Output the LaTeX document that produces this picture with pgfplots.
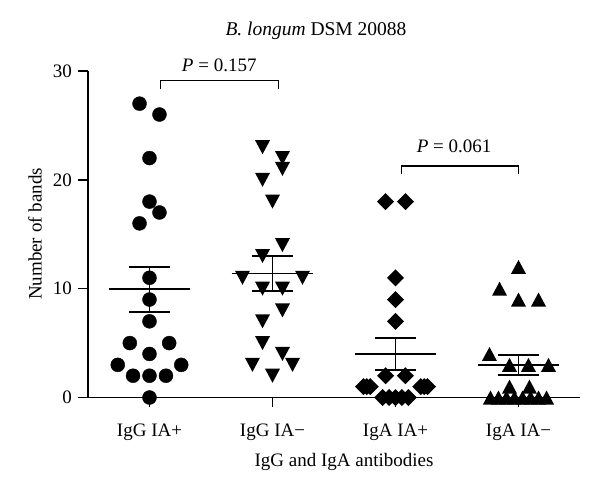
\documentclass[border=0pt]{standalone}
\usepackage{fontspec}
\setmainfont{Liberation Serif}
\usepackage{pgfplots}
\pgfplotsset{compat=1.18}

% filled marks, centred on their bounding box like the original
\pgfdeclareplotmark{tup}{%
  \pgfpathmoveto{\pgfqpoint{0pt}{7pt}}%
  \pgfpathlineto{\pgfqpoint{-7.5pt}{-7pt}}%
  \pgfpathlineto{\pgfqpoint{7.5pt}{-7pt}}%
  \pgfpathclose\pgfusepathqfill}
\pgfdeclareplotmark{tdown}{%
  \pgfpathmoveto{\pgfqpoint{0pt}{-7pt}}%
  \pgfpathlineto{\pgfqpoint{-7.5pt}{7pt}}%
  \pgfpathlineto{\pgfqpoint{7.5pt}{7pt}}%
  \pgfpathclose\pgfusepathqfill}
\pgfdeclareplotmark{diam}{%
  \pgfpathmoveto{\pgfqpoint{0pt}{8.5pt}}%
  \pgfpathlineto{\pgfqpoint{8.5pt}{0pt}}%
  \pgfpathlineto{\pgfqpoint{0pt}{-8.5pt}}%
  \pgfpathlineto{\pgfqpoint{-8.5pt}{0pt}}%
  \pgfpathclose\pgfusepathqfill}

\begin{document}
\fontsize{19}{22}\selectfont
\begin{tikzpicture}
  \begin{axis}[
      scale only axis,
      width=492pt, height=326.5pt,
      xmin=-0.5, xmax=3.5,
      ymin=0, ymax=30,
      axis x line=bottom, axis y line=left,
      axis line style={-, line width=1.5pt},
      every tick/.style={black, line width=1.5pt},
      tick align=outside,
      major tick length=9.5pt,
      xtick={0,1,2,3},
      xticklabels={IgG IA+, IgG IA−, IgA IA+, IgA IA−},
      xticklabel style={yshift=-10pt},
      ytick={0,10,20,30},
      minor tick num=0,
      /pgf/number format/assume math mode=true,
      title={\fontsize{19.5}{22}\selectfont\textit{B. longum} DSM 20088},
      title style={at={(rel axis cs:0.4634,1.104)}, anchor=center},
      xlabel={IgG and IgA antibodies},
      xlabel style={at={(rel axis cs:0.5203,-0.1975)}, anchor=center},
      ylabel={Number of bands},
      ylabel style={at={(rel axis cs:-0.1077,0.5008)}, anchor=center, rotate=0},
      clip=false
    ]
    % IgG IA+
    \addplot[only marks, mark=*, mark size=7pt, black] coordinates {
      (-0.081,27) (0.081,26) (0,22) (0,18) (0.081,17) (-0.081,16)
      (0,11) (0,9) (0,7) (-0.160,5) (0.160,5) (0,4)
      (-0.258,3) (0.258,3) (-0.134,2) (0,2) (0.134,2) (0,0)};
    % IgG IA-
    \addplot[only marks, mark=tdown, black] coordinates {
      (0.919,23) (1.081,22) (1.081,21) (0.919,20) (1,18) (1.081,14)
      (0.919,13) (0.756,11) (1.244,11) (0.919,10) (1.081,10) (1.081,8)
      (0.919,7) (0.919,5) (1.081,4) (0.837,3) (1.163,3) (1,2)};
    % IgA IA+
    \addplot[only marks, mark=diam, black] coordinates {
      (1.919,18) (2.081,18) (2,11) (2,9) (2,7) (1.919,2) (2.081,2)
      (1.740,1) (1.767,1) (1.795,1) (2.205,1) (2.233,1) (2.260,1)
      (1.896,0) (1.948,0) (2,0) (2.052,0) (2.104,0)};
    % IgA IA-
    \addplot[only marks, mark=tup, black] coordinates {
      (3,12) (2.846,10) (3,9) (3.163,9) (2.764,4)
      (2.927,3) (3.081,3) (3.244,3) (2.927,1) (3.089,1)
      (2.772,0) (2.837,0) (2.902,0) (2.967,0) (3.033,0) (3.098,0) (3.163,0) (3.228,0)};

    % mean and SEM
    \addplot[black, line width=1.8pt, unbounded coords=jump] coordinates {
      (-0.333,9.94) (0.333,9.94) (nan,nan)
      (-0.166,12.02) (0.166,12.02) (nan,nan)
      (0,12.02) (0,7.86) (nan,nan)
      (-0.166,7.86) (0.166,7.86)};
    \addplot[black, line width=1.8pt, unbounded coords=jump] coordinates {
      (0.667,11.39) (1.333,11.39) (nan,nan)
      (0.834,13.03) (1.166,13.03) (nan,nan)
      (1,13.03) (1,9.75) (nan,nan)
      (0.834,9.75) (1.166,9.75)};
    \addplot[black, line width=1.8pt, unbounded coords=jump] coordinates {
      (1.667,4.0) (2.333,4.0) (nan,nan)
      (1.834,5.45) (2.166,5.45) (nan,nan)
      (2,5.45) (2,2.55) (nan,nan)
      (1.834,2.55) (2.166,2.55)};
    \addplot[black, line width=1.8pt, unbounded coords=jump] coordinates {
      (2.667,3.0) (3.333,3.0) (nan,nan)
      (2.834,3.92) (3.166,3.92) (nan,nan)
      (3,3.92) (3,2.07) (nan,nan)
      (2.834,2.07) (3.166,2.07)};

    % significance brackets
    \draw[line width=1.2pt] (axis cs:0.087,28.34) |- (axis cs:1.048,29.1) -- (axis cs:1.048,28.34);
    \draw[line width=1.2pt] (axis cs:2.046,20.5) |- (axis cs:2.997,21.27) -- (axis cs:2.997,20.5);
    \node at (axis cs:0.567,30.55) {$\mathit{P}$ = 0.157};
    \node at (axis cs:2.476,23.07) {$\mathit{P}$ = 0.061};
  \end{axis}
  \pgfresetboundingbox
  \path (-88pt,-92.5pt) rectangle (512pt,397.5pt);
\end{tikzpicture}
\end{document}
